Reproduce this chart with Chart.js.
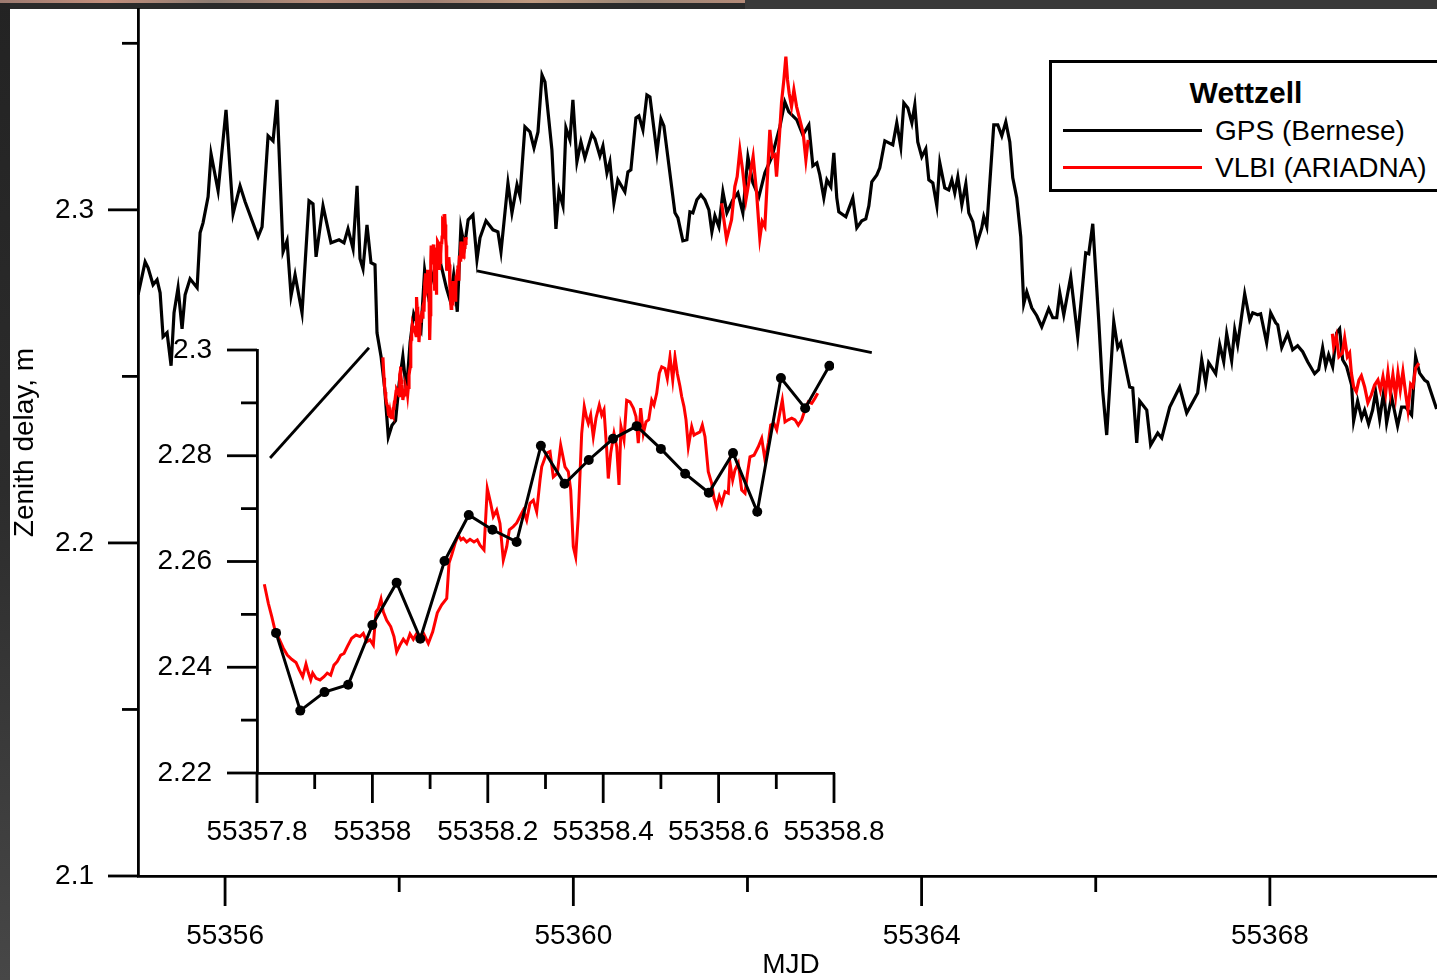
<!DOCTYPE html>
<html>
<head>
<meta charset="utf-8">
<script src="https://cdn.jsdelivr.net/npm/chart.js@4.4.1/dist/chart.umd.min.js"></script>
<style>
html,body{margin:0;padding:0;width:1437px;height:980px;overflow:hidden;background:#2a2a2a;}
#leftstrip{position:absolute;left:0;top:0;width:10px;height:980px;background:linear-gradient(180deg,#232323 0%,#2c2c2c 50%,#474747 100%);}
#topstrip{position:absolute;left:0;top:0;width:745px;height:3px;background:linear-gradient(90deg,#9c7a70,#c48f7c,#8d7c72,#b98c79,#a07f72,#c09a80,#9a8676,#b48a78);}
#topdark{position:absolute;left:745px;top:0;width:692px;height:9px;background:#3a3a3a;}
#paper{position:absolute;left:10px;top:9px;width:1427px;height:971px;background:#fff;}
canvas{position:absolute;}
#main{left:0;top:0;}
#inset{left:150px;top:320px;}
#legend{position:absolute;left:1049px;top:60px;width:440px;height:132px;box-sizing:border-box;border:3px solid #000;background:#fff;font-family:"Liberation Sans",Arial,sans-serif;color:#000;}
#legend .t{position:absolute;left:194px;top:15px;transform:translateX(-50%);font-weight:bold;font-size:30px;line-height:30px;white-space:nowrap;}
#legend .s{position:absolute;left:11px;width:139px;height:3px;}
#legend .l{position:absolute;left:163px;font-size:28px;line-height:28px;white-space:nowrap;}
</style>
</head>
<body>
<div id="leftstrip"></div>
<div id="topstrip"></div>
<div id="topdark"></div>
<div id="paper"></div>
<canvas id="main" width="1460" height="980"></canvas>
<canvas id="inset" width="780" height="540"></canvas>
<div id="legend">
  <div class="t">Wettzell</div>
  <div class="s" style="top:65.5px;background:#000"></div>
  <div class="l" style="top:54px">GPS (Bernese)</div>
  <div class="s" style="top:102.5px;background:#ff0000"></div>
  <div class="l" style="top:91px">VLBI (ARIADNA)</div>
</div>
<script>
// ---------------- DATA ----------------
// GPS (Bernese) zenith delay, m
const gpsMjd = [
55355.001,55355.082,55355.116,55355.173,55355.219,55355.254,55355.288,55355.334,55355.380,55355.414,
55355.460,55355.506,55355.541,55355.598,55355.679,55355.713,55355.747,55355.805,55355.839,55355.920,
55356.011,55356.092,55356.172,55356.230,55356.379,55356.425,55356.494,55356.551,55356.597,55356.666,
55356.712,55356.758,55356.804,55356.884,55356.964,55357.010,55357.045,55357.125,55357.217,55357.309,
55357.366,55357.412,55357.470,55357.516,55357.550,55357.584,55357.630,55357.676,55357.722,55357.745,
55357.792,
55357.833,55357.875,55357.917,55357.958,55358.000,55358.042,55358.083,55358.125,55358.167,55358.208,
55358.250,55358.292,55358.333,55358.375,55358.417,55358.458,55358.500,55358.542,55358.583,55358.625,
55358.667,55358.708,55358.750,55358.792,
55358.847,55358.893,55358.928,55358.997,55359.077,55359.134,55359.169,55359.249,55359.295,55359.353,
55359.387,55359.444,55359.502,55359.548,55359.594,55359.640,55359.674,55359.754,55359.800,55359.835,
55359.881,55359.915,55359.961,55359.995,55360.041,55360.087,55360.133,55360.214,55360.248,55360.305,
55360.340,55360.386,55360.420,55360.466,55360.512,55360.592,55360.627,55360.661,55360.719,55360.753,
55360.799,55360.845,55360.880,55360.960,55361.006,55361.040,55361.167,55361.201,55361.258,55361.304,
55361.339,55361.373,55361.419,55361.465,55361.511,55361.557,55361.591,55361.626,55361.672,55361.718,
55361.764,55361.832,55361.890,55361.947,55362.005,55362.062,55362.131,55362.200,55362.280,55362.372,
55362.429,55362.475,55362.567,55362.636,55362.705,55362.751,55362.797,55362.831,55362.877,55362.912,
55362.958,55362.992,55363.026,55363.049,55363.130,55363.210,55363.256,55363.313,55363.359,55363.394,
55363.428,55363.486,55363.520,55363.578,55363.669,55363.715,55363.761,55363.796,55363.842,55363.888,
55363.922,55363.956,55364.002,55364.048,55364.083,55364.129,55364.175,55364.209,55364.266,55364.312,
55364.347,55364.381,55364.416,55364.462,55364.508,55364.542,55364.588,55364.634,55364.691,55364.714,
55364.749,55364.829,55364.875,55364.921,55364.967,55365.013,55365.047,55365.093,55365.139,55365.173,
55365.208,55365.265,55365.323,55365.380,55365.460,55365.506,55365.552,55365.587,55365.633,55365.713,
55365.793,55365.885,55365.920,55365.966,55366.034,55366.080,55366.126,55366.207,55366.253,55366.287,
55366.356,55366.390,55366.425,55366.471,55366.505,55366.586,55366.631,55366.712,55366.758,55366.850,
55366.964,55367.045,55367.171,55367.217,55367.263,55367.297,55367.378,55367.424,55367.470,55367.504,
55367.561,55367.596,55367.630,55367.711,55367.768,55367.803,55367.860,55367.894,55367.963,55368.009,
55368.067,55368.090,55368.136,55368.204,55368.262,55368.319,55368.377,55368.434,55368.514,55368.560,
55368.606,55368.641,55368.675,55368.721,55368.767,55368.801,55368.836,55368.882,55368.939,55368.962,
55369.008,55369.054,55369.088,55369.134,55369.180,55369.215,55369.261,55369.307,55369.341,55369.398,
55369.467,55369.513,55369.559,55369.628,55369.674,55369.720,55369.777,55369.812,55369.915
];
const gpsZtd = [
2.2745,2.2844,2.2826,2.2775,2.2790,2.2751,2.2619,2.2631,2.2532,2.2691,
2.2766,2.2643,2.2745,2.2793,2.2766,2.2931,2.2961,2.3039,2.3168,2.3057,
2.3300,2.2988,2.3072,2.3024,2.2919,2.2949,2.3222,2.3207,2.3330,2.2874,
2.2907,2.2742,2.2805,2.2691,2.3027,2.3018,2.2859,2.3012,2.2901,2.2910,
2.2901,2.2943,2.2883,2.3072,2.2853,2.2823,2.2955,2.2841,2.2835,2.2631,
2.2559,
2.2465,2.2318,2.2353,2.2367,2.2480,2.2560,2.2454,2.2601,2.2688,2.2660,
2.2637,2.2819,2.2747,2.2792,2.2832,2.2856,2.2813,2.2766,2.2730,2.2805,
2.2694,2.2947,2.2890,2.2970,
2.2985,2.2850,2.2916,2.2967,2.2940,2.2934,2.2874,2.3081,2.2991,2.3075,
2.3042,2.3249,2.3234,2.3186,2.3234,2.3405,2.3384,2.3180,2.2943,2.3057,
2.3012,2.3246,2.3210,2.3330,2.3144,2.3204,2.3156,2.3228,2.3213,2.3162,
2.3192,2.3111,2.3144,2.3021,2.3090,2.3054,2.3114,2.3120,2.3276,2.3282,
2.3240,2.3345,2.3339,2.3171,2.3273,2.3252,2.2991,2.2976,2.2907,2.2910,
2.2994,2.2991,2.3030,2.3045,2.3030,2.3000,2.2934,2.2982,2.2949,2.3054,
2.2991,2.3030,2.3051,2.2991,2.3159,2.3081,2.3039,2.3111,2.3159,2.3249,
2.3324,2.3294,2.3270,2.3225,2.3255,2.3132,2.3141,2.3105,2.3036,2.3090,
2.3069,2.3171,2.3036,2.2994,2.2979,2.3036,2.2946,2.2967,2.2973,2.3012,
2.3084,2.3105,2.3126,2.3207,2.3195,2.3261,2.3189,2.3321,2.3306,2.3261,
2.3315,2.3204,2.3159,2.3183,2.3090,2.3081,2.3012,2.3141,2.3066,2.3060,
2.3090,2.3051,2.3099,2.3015,2.3078,2.2991,2.2964,2.2898,2.2946,2.2979,
2.2949,2.3255,2.3255,2.3222,2.3264,2.3204,2.3096,2.3036,2.2919,2.2718,
2.2754,2.2706,2.2682,2.2649,2.2703,2.2676,2.2676,2.2751,2.2685,2.2799,
2.2619,2.2871,2.2868,2.2958,2.2670,2.2456,2.2324,2.2664,2.2586,2.2601,
2.2511,2.2468,2.2465,2.2300,2.2426,2.2399,2.2294,2.2330,2.2315,2.2408,
2.2468,2.2390,2.2450,2.2550,2.2480,2.2541,2.2508,2.2595,2.2544,2.2628,
2.2547,2.2640,2.2595,2.2748,2.2670,2.2691,2.2685,2.2688,2.2601,2.2691,
2.2661,2.2655,2.2586,2.2628,2.2580,2.2592,2.2574,2.2544,2.2508,2.2520,
2.2586,2.2532,2.2565,2.2529,2.2631,2.2643,2.2550,2.2529,2.2474,2.2366,
2.2426,2.2375,2.2399,2.2357,2.2399,2.2453,2.2372,2.2453,2.2360,2.2438,
2.2351,2.2408,2.2408,2.2384,2.2559,2.2510,2.2489,2.2483,2.2402
];

// VLBI (ARIADNA) session 1 (also shown in the inset)
const vlbi1Mjd = [
55357.8127,55357.8196,55357.8255,55357.8312,55357.8386,55357.8456,55357.8525,55357.8601,55357.8676,55357.8733,
55357.8792,55357.8849,55357.8889,55357.8931,55357.8965,55357.9023,55357.9092,55357.9161,55357.9218,55357.9277,
55357.9334,55357.9392,55357.9451,55357.9508,55357.9565,55357.9641,55357.9716,55357.9785,55357.9842,55357.9901,
55357.9958,55358.0016,55358.0062,55358.0102,55358.0149,55358.0189,55358.0248,55358.0317,55358.0374,55358.0421,
55358.0478,55358.0536,55358.0594,55358.0652,55358.0709,55358.0768,55358.0825,55358.0882,55358.0969,55358.1045,
55358.1125,55358.1201,55358.1288,55358.1328,55358.1374,55358.1432,55358.1489,55358.1536,55358.1575,55358.1634,
55358.1692,55358.1761,55358.1818,55358.1865,55358.1934,55358.1991,55358.2050,55358.2095,55358.2154,55358.2211,
55358.2269,55358.2328,55358.2373,55358.2442,55358.2501,55358.2558,55358.2615,55358.2674,55358.2731,55358.2789,
55358.2847,55358.2905,55358.2934,55358.3021,55358.3078,55358.3135,55358.3205,55358.3263,55358.3338,55358.3395,
55358.3437,55358.3482,55358.3523,55358.3568,55358.3627,55358.3672,55358.3714,55358.3742,55358.3783,55358.3828,
55358.3875,55358.3932,55358.3974,55358.4014,55358.4061,55358.4088,55358.4130,55358.4187,55358.4234,55358.4274,
55358.4308,55358.4360,55358.4407,55358.4464,55358.4522,55358.4568,55358.4608,55358.4650,55358.4695,55358.4742,
55358.4789,55358.4841,55358.4880,55358.4927,55358.4972,55358.5014,55358.5071,55358.5111,55358.5158,55358.5205,
55358.5244,55358.5284,55358.5331,55358.5360,55358.5400,55358.5435,55358.5475,55358.5534,55358.5574,55358.5620,
55358.5678,55358.5718,55358.5764,55358.5821,55358.5880,55358.5920,55358.5967,55358.6012,55358.6054,55358.6111,
55358.6168,55358.6198,55358.6244,55358.6284,55358.6341,55358.6400,55358.6458,55358.6497,55358.6544,55358.6614,
55358.6688,55358.6747,55358.6804,55358.6861,55358.6903,55358.6960,55358.7007,55358.7064,55358.7104,55358.7151,
55358.7208,55358.7267,55358.7324,55358.7381,55358.7440,55358.7497,55358.7555,55358.7614,55358.7671,55358.7718
];
const vlbi1Ztd = [
2.2557,2.2521,2.2496,2.2470,2.2453,2.2436,2.2423,2.2415,2.2409,2.2395,
2.2382,2.2406,2.2390,2.2376,2.2389,2.2379,2.2376,2.2382,2.2389,2.2385,
2.2404,2.2411,2.2423,2.2426,2.2439,2.2455,2.2461,2.2458,2.2464,2.2448,
2.2452,2.2442,2.2505,2.2511,2.2529,2.2505,2.2489,2.2477,2.2458,2.2429,
2.2442,2.2453,2.2445,2.2463,2.2453,2.2464,2.2458,2.2465,2.2445,2.2467,
2.2503,2.2518,2.2530,2.2597,2.2612,2.2634,2.2650,2.2641,2.2644,2.2637,
2.2642,2.2637,2.2641,2.2631,2.2622,2.2738,2.2710,2.2685,2.2697,2.2672,
2.2603,2.2628,2.2660,2.2666,2.2673,2.2685,2.2697,2.2678,2.2710,2.2716,
2.2694,2.2754,2.2779,2.2805,2.2808,2.2760,2.2767,2.2820,2.2779,2.2770,
2.2735,2.2628,2.2609,2.2685,2.2842,2.2893,2.2871,2.2861,2.2877,2.2836,
2.2871,2.2896,2.2877,2.2887,2.2811,2.2757,2.2805,2.2842,2.2817,2.2745,
2.2855,2.2830,2.2905,2.2902,2.2890,2.2874,2.2824,2.2890,2.2842,2.2864,
2.2868,2.2905,2.2896,2.2918,2.2956,2.2968,2.2965,2.2946,2.2987,2.2943,
2.2987,2.2956,2.2931,2.2912,2.2893,2.2868,2.2817,2.2855,2.2839,2.2842,
2.2845,2.2858,2.2836,2.2770,2.2748,2.2720,2.2704,2.2723,2.2710,2.2732,
2.2729,2.2786,2.2754,2.2773,2.2786,2.2735,2.2729,2.2764,2.2798,2.2801,
2.2817,2.2833,2.2792,2.2824,2.2858,2.2861,2.2849,2.2883,2.2905,2.2864,
2.2868,2.2871,2.2868,2.2858,2.2868,2.2887,2.2902,2.2899,2.2909,2.2918
];
// VLBI session 2
const vlbi2Mjd = [55361.703,55361.760,55361.817,55361.855,55361.882,55361.913,55361.944,55361.982,55362.020,55362.065,
55362.105,55362.128,55362.142,55362.169,55362.200,55362.226,55362.257,55362.288,55362.315,55362.334,
55362.364,55362.392,55362.418,55362.441,55362.460,55362.479,55362.506,55362.533,55362.564,55362.602,
55362.640,55362.671,55362.697];
const vlbi2Ztd = [2.3020,2.2912,2.2970,2.3070,2.3100,2.3180,2.3120,2.3030,2.3090,2.3160,
2.3050,2.2965,2.2915,2.2965,2.2950,2.3080,2.3240,2.3160,2.3165,2.3100,
2.3210,2.3325,2.3390,2.3460,2.3390,2.3350,2.3310,2.3360,2.3310,2.3270,
2.3230,2.3150,2.3210];
// VLBI session 3
const vlbi3Mjd = [55368.718,55368.733,55368.764,55368.793,55368.832,55368.859,55368.890,55368.916,55368.936,55368.962,
55368.993,55369.023,55369.051,55369.088,55369.126,55369.165,55369.203,55369.241,55369.269,55369.299,
55369.330,55369.356,55369.384,55369.413,55369.444,55369.471,55369.498,55369.528,55369.559,55369.586,
55369.617,55369.643,55369.674,55369.712];
const vlbi3Ztd = [2.2628,2.2589,2.2620,2.2559,2.2570,2.2615,2.2559,2.2570,2.2510,2.2469,
2.2454,2.2489,2.2502,2.2469,2.2421,2.2444,2.2474,2.2489,2.2459,2.2499,
2.2450,2.2511,2.2450,2.2505,2.2441,2.2510,2.2459,2.2514,2.2450,2.2399,
2.2477,2.2469,2.2525,2.2540];

// zoom connector lines (main-chart data coordinates)
const link1Mjd = [55356.517, 55357.653];
const link1Ztd = [2.2255, 2.2586];
const link2Mjd = [55358.893, 55363.428];
const link2Ztd = [2.2817, 2.2571];

// axes
const mainXTicks  = [55356,55358,55360,55362,55364,55366,55368,55370];
const mainXLabels = ['55356','','55360','','55364','','55368',''];
const mainYTicks  = [2.1,2.15,2.2,2.25,2.3,2.35];
const mainYLabels = ['2.1','','2.2','','2.3',''];
const insetXTicks  = [55357.8,55357.9,55358.0,55358.1,55358.2,55358.3,55358.4,55358.5,55358.6,55358.7,55358.8];
const insetXLabels = ['55357.8','','55358','','55358.2','','55358.4','','55358.6','','55358.8'];
const insetYTicks  = [2.22,2.23,2.24,2.25,2.26,2.27,2.28,2.29,2.30];
const insetYLabels = ['2.22','','2.24','','2.26','','2.28','','2.3'];

// ---------------- CHARTS ----------------
const FONT = '"Liberation Sans", Arial, sans-serif';
Chart.defaults.font.family = FONT;
Chart.defaults.color = '#000';

const pts = (xs, ys) => xs.map((x, i) => ({x: x, y: ys[i]}));

const outerTicks = {
  id: 'outerTicks',
  afterDraw(chart, args, opts) {
    const {ctx, chartArea, scales} = chart;
    ctx.save();
    ctx.strokeStyle = '#000';
    ctx.lineWidth = opts.width;
    ctx.lineCap = 'butt';
    scales.x.ticks.forEach((t, i) => {
      const p = scales.x.getPixelForValue(t.value);
      const len = opts.xLabels[i] ? opts.major : opts.minor;
      ctx.beginPath(); ctx.moveTo(p, chartArea.bottom); ctx.lineTo(p, chartArea.bottom + len); ctx.stroke();
    });
    scales.y.ticks.forEach((t, i) => {
      const p = scales.y.getPixelForValue(t.value);
      const len = opts.yLabels[i] ? opts.major : opts.minor;
      ctx.beginPath(); ctx.moveTo(chartArea.left, p); ctx.lineTo(chartArea.left - len, p); ctx.stroke();
    });
    ctx.restore();
  }
};

function axis(ticksArr, labelsArr, pad, fitFn, extra) {
  return Object.assign({
    type: 'linear',
    afterBuildTicks: s => { s.ticks = ticksArr.map(v => ({value: v})); },
    afterFit: fitFn,
    grid: {display: false, drawTicks: false},
    border: {display: true, color: '#000', width: 2.8},
    ticks: {autoSkip: false, maxRotation: 0, minRotation: 0, padding: pad, color: '#000',
            font: {size: 28, family: FONT, lineHeight: 1.2},
            callback: (v, i) => labelsArr[i]}
  }, extra);
}

new Chart(document.getElementById('main'), {
  type: 'line',
  data: {
    datasets: [
      {data: pts(vlbi1Mjd, vlbi1Ztd), borderColor: '#ff0000', borderWidth: 3.2, pointRadius: 0, order: 0},
      {data: pts(vlbi2Mjd, vlbi2Ztd), borderColor: '#ff0000', borderWidth: 3.2, pointRadius: 0, order: 0},
      {data: pts(vlbi3Mjd, vlbi3Ztd), borderColor: '#ff0000', borderWidth: 3.2, pointRadius: 0, order: 0},
      {data: pts(gpsMjd, gpsZtd), borderColor: '#000', borderWidth: 3.2, pointRadius: 0, order: 1},
      {data: pts(link1Mjd, link1Ztd), borderColor: '#000', borderWidth: 2.8, pointRadius: 0, order: 2},
      {data: pts(link2Mjd, link2Ztd), borderColor: '#000', borderWidth: 2.8, pointRadius: 0, order: 2}
    ]
  },
  options: {
    responsive: false, animation: false, events: [],
    layout: {padding: {left: 0, top: 9, right: 16, bottom: 0}},
    plugins: {legend: {display: false}, tooltip: {enabled: false},
      outerTicks: {width: 2.8, major: 30, minor: 16, xLabels: mainXLabels, yLabels: mainYLabels}},
    scales: {
      x: axis(mainXTicks, mainXLabels, 43, s => { s.height = 104; s.paddingLeft = 0; s.paddingRight = 0; },
        {min: 55355, max: 55370,
         title: {display: true, text: 'MJD', color: '#000', font: {size: 28, family: FONT, lineHeight: 1}, padding: {top: 0, bottom: 1}}}),
      y: axis(mainYTicks, mainYLabels, 44, s => { s.width = 138; s.paddingTop = 0; s.paddingBottom = 0; },
        {min: 2.1, max: 2.3603,
         title: {display: true, text: 'Zenith delay, m', color: '#000', font: {size: 28, family: FONT, lineHeight: 1.2}, padding: {top: 8, bottom: 0}}})
    }
  },
  plugins: [outerTicks]
});

const inRange = (xs, ys, a, b) => pts(xs, ys).filter(p => p.x >= a && p.x <= b);

new Chart(document.getElementById('inset'), {
  type: 'line',
  data: {
    datasets: [
      {data: inRange(gpsMjd, gpsZtd, 55357.8, 55358.8), borderColor: '#000', borderWidth: 3,
       pointRadius: 5, pointBackgroundColor: '#000', pointBorderWidth: 0, order: 0},
      {data: pts(vlbi1Mjd, vlbi1Ztd), borderColor: '#ff0000', borderWidth: 3, pointRadius: 0, order: 1}
    ]
  },
  options: {
    responsive: false, animation: false, events: [],
    layout: {padding: {left: 0, top: 30, right: 96, bottom: 0}},
    plugins: {legend: {display: false}, tooltip: {enabled: false},
      outerTicks: {width: 2.8, major: 30, minor: 16, xLabels: insetXLabels, yLabels: insetYLabels}},
    scales: {
      x: axis(insetXTicks, insetXLabels, 42, s => { s.height = 87; s.paddingLeft = 0; s.paddingRight = 0; },
        {min: 55357.8, max: 55358.8}),
      y: axis(insetYTicks, insetYLabels, 45, s => { s.width = 107; s.paddingTop = 0; s.paddingBottom = 0; },
        {min: 2.22, max: 2.30})
    }
  },
  plugins: [outerTicks]
});
</script>
</body>
</html>
